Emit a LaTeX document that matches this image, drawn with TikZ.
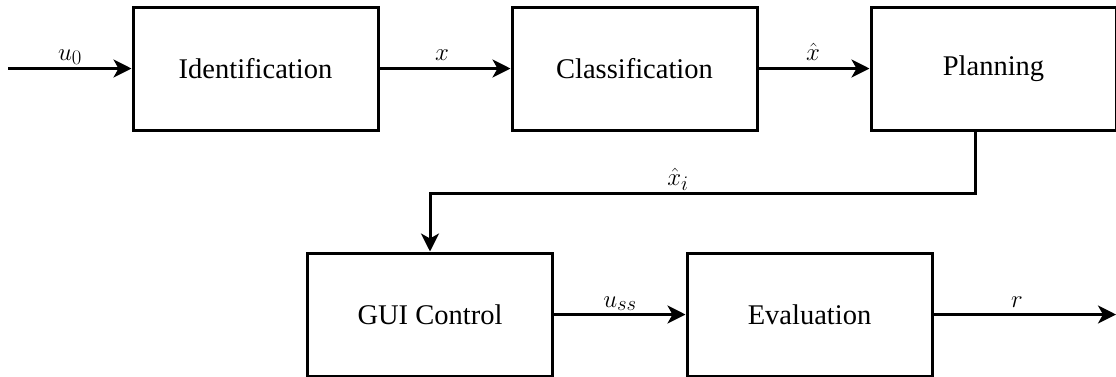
\documentclass[tikz,border=0pt]{standalone}
\usepackage{fontspec}
\setmainfont{Liberation Serif}
\usetikzlibrary{arrows.meta}

\begin{document}
\begin{tikzpicture}[x=1pt,y=-1pt,
  block/.style={draw, line width=3pt, minimum width=245pt, minimum height=123pt,
    inner sep=0pt, font=\fontsize{28.5}{33}\selectfont},
  flow/.style={line width=3pt, -{Stealth[length=18pt,width=18pt,inset=5pt]}},
  lbl/.style={font=\fontsize{29}{34}\selectfont, inner sep=0pt, anchor=base}
]
\useasboundingbox (0,0) rectangle (1116,376);

% processing stages
\node[block] (id)  at (255.5,68.5) {Identification};
\node[block] (cl)  at (634.5,68.5) {Classification};
\node[block] (pl)  at (993.5,68.5) {Planning};
\node[block] (gui) at (430,314.5)  {GUI Control};
\node[block] (ev)  at (809.5,314.5) {Evaluation};

% free ends and the bend of the feedback path
\coordinate (in)  at (8,68.5);
\coordinate (out) at (1116,314.5);
\coordinate (fb)  at (975,193);

% signal flow
\draw[flow] (in) -- (id);
\draw[flow] (id) -- (cl);
\draw[flow] (cl) -- (pl);
\draw[flow] (pl.south -| fb) -- (fb) -| (gui.north);
\draw[flow] (gui) -- (ev);
\draw[flow] (ev) -- (out);

% signal labels
\node[lbl] (lu0)  at (70,60)    {$u_0$};
\node[lbl] (lx)   at (442,60)   {$x$};
\node[lbl] (lxh)  at (813,60)   {$\hat{x}$};
\node[lbl] (lxi)  at (678,185)  {$\hat{x}_i$};
\node[lbl] (luss) at (620,307)  {$u_{ss}$};
\node[lbl] (lr)   at (1017,307) {$r$};
\end{tikzpicture}
\end{document}
